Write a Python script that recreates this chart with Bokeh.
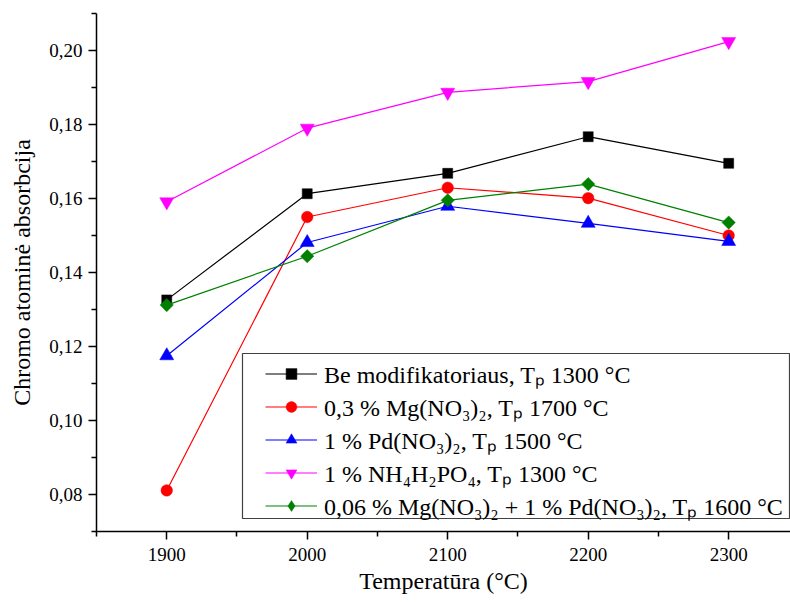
from bokeh.plotting import figure
from bokeh.models import (FixedTicker, CustomJSTickFormatter, Legend, LegendItem,
                          BoxAnnotation, Range1d)
from bokeh.embed import file_html
from bokeh.resources import INLINE
import numpy as np

# ---- data ----
temperature = [1900, 2000, 2100, 2200, 2300]
be_modifikatoriaus = [0.1326, 0.1613, 0.1668, 0.1767, 0.1695]
mg_03 = [0.0811, 0.1550, 0.1629, 0.1601, 0.1500]
pd_1 = [0.1175, 0.1481, 0.1579, 0.1533, 0.1484]
nh4h2po4 = [0.1591, 0.1790, 0.1887, 0.1916, 0.2024]
mg_pd = [0.1312, 0.1444, 0.1595, 0.1639, 0.1535]

labels = [
    "Be modifikatoriaus, T\u209a 1300 \u00b0C",
    "0,3 % Mg(NO\u2083)\u2082, T\u209a 1700 \u00b0C",
    "1 % Pd(NO\u2083)\u2082, T\u209a 1500 \u00b0C",
    "1 % NH\u2084H\u2082PO\u2084, T\u209a 1300 \u00b0C",
    "0,06 % Mg(NO\u2083)\u2082 + 1 % Pd(NO\u2083)\u2082, T\u209a 1600 \u00b0C",
]

x_ticks = [1900, 2000, 2100, 2200, 2300]
x_minor_ticks = [1850, 1950, 2050, 2150, 2250, 2350]
y_ticks = [0.08, 0.10, 0.12, 0.14, 0.16, 0.18, 0.20]
y_minor_ticks = [0.07, 0.09, 0.11, 0.13, 0.15, 0.17, 0.19, 0.21]

x_label = "Temperat\u016bra (\u00b0C)"
y_label = "Chromo atomin\u0117 absorbcija"

FONT = "Liberation Serif"

p = figure(width=790, height=603,
           x_range=Range1d(1850, 2344), y_range=Range1d(0.07, 0.21),
           output_backend="svg", toolbar_location=None,
           min_border_left=96, min_border_right=0,
           min_border_top=13, min_border_bottom=72)
p.outline_line_color = None
p.grid.visible = False
p.background_fill_color = "white"
p.border_fill_color = "white"

# axes
p.xaxis.ticker = FixedTicker(ticks=x_ticks, minor_ticks=x_minor_ticks)
p.yaxis.ticker = FixedTicker(ticks=y_ticks, minor_ticks=y_minor_ticks)
p.yaxis.formatter = CustomJSTickFormatter(code="return tick.toFixed(2).replace('.', ',');")

for ax in (p.xaxis[0], p.yaxis[0]):
    ax.axis_line_color = "black"
    ax.axis_line_width = 1.5
    ax.major_tick_line_color = "black"
    ax.major_tick_line_width = 1.5
    ax.minor_tick_line_color = "black"
    ax.minor_tick_line_width = 1.5
    ax.major_tick_in = 0
    ax.major_tick_out = 8
    ax.minor_tick_in = 0
    ax.minor_tick_out = 5
    ax.major_label_text_font = FONT
    ax.major_label_text_font_size = "19px"
    ax.major_label_text_color = "black"
    ax.axis_label_text_font = FONT
    ax.axis_label_text_font_size = "24px"
    ax.axis_label_text_font_style = "normal"
    ax.axis_label_text_color = "black"

p.xaxis.axis_label = x_label
p.yaxis.axis_label = y_label
p.xaxis.major_label_standoff = 8
p.yaxis.major_label_standoff = 6
p.xaxis.axis_label_standoff = 4
p.yaxis.axis_label_standoff = 11

# series: values, colour, marker in plot, size, angle, marker shown in legend
series = [
    (be_modifikatoriaus, "black", "square", 10, 0.0, None),
    (mg_03, "#ff0000", "circle", 11.5, 0.0, None),
    (pd_1, "#0000ff", "triangle", 14, 0.0, None),
    (nh4h2po4, "#ff00ff", "inverted_triangle", 14, 0.0, None),
    (mg_pd, "#008000", "square", 9.4, np.pi / 4, "diamond"),
]

items = []
for (vals, color, marker, size, angle, leg_marker), lab in zip(series, labels):
    lr = p.line(temperature, vals, line_color=color, line_width=1.2)
    sr = p.scatter(temperature, vals, marker=marker, size=size, angle=angle,
                   fill_color=color, line_color=color, line_width=0.5)
    if leg_marker is None:
        rends = [lr, sr]
    else:
        # legend-only marker (the legend cannot rotate markers): hidden in the plot
        lm = p.scatter(temperature, vals, marker=leg_marker, size=size,
                       fill_color=color, line_color=color, line_width=0.5,
                       visible=False)
        rends = [lr, lm]
    items.append(LegendItem(label=lab, renderers=rends))

# legend frame
box = BoxAnnotation(left=146, right=693, bottom=13, top=178,
                    left_units="screen", right_units="screen",
                    bottom_units="screen", top_units="screen",
                    fill_color="white", fill_alpha=1.0,
                    line_color="#404040", line_width=1.2, line_alpha=1.0)
p.add_layout(box)

legend = Legend(items=items, location=(169, 9), margin=0, padding=0,
                spacing=0, label_height=30, glyph_width=52, glyph_height=27,
                label_standoff=7, border_line_color=None,
                background_fill_alpha=0.0, inactive_fill_alpha=0.0,
                label_text_font=FONT, label_text_font_size="24px",
                label_text_color="black")
p.add_layout(legend, "center")

open("out.html", "w").write(file_html(p, INLINE))
